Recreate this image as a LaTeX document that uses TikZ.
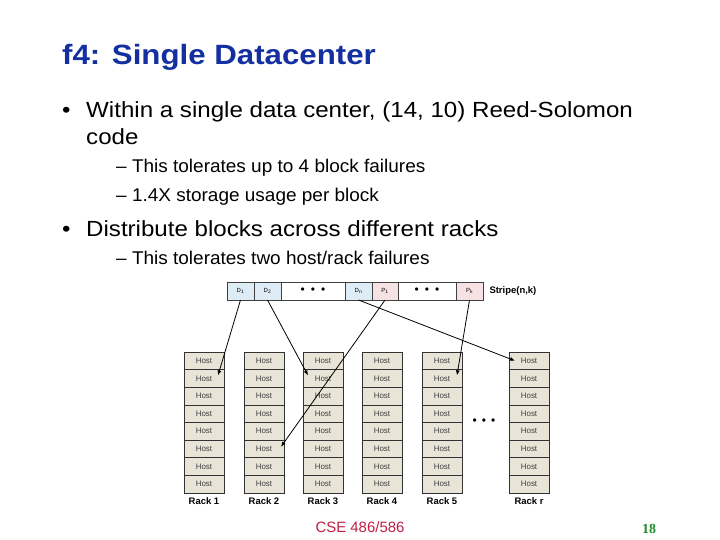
\documentclass[tikz,border=0pt]{standalone}
\usepackage{fontspec}
\setmainfont{Liberation Sans}
\newfontfamily\serifnum{Liberation Serif}
\newfontfamily\titlefont[FakeStretch=1.12]{Liberation Sans}
\newfontfamily\bodyfont[FakeStretch=1.1]{Liberation Sans}
\newfontfamily\subfont[FakeStretch=1.03]{Liberation Sans}
\usepackage{xcolor}
\usetikzlibrary{positioning,arrows.meta}
\definecolor{titleblue}{RGB}{20,48,160}
\definecolor{hostfill}{RGB}{232,229,216}
\definecolor{dblue}{RGB}{222,236,246}
\definecolor{ppink}{RGB}{246,226,228}
\definecolor{footred}{RGB}{190,30,70}
\definecolor{pagegreen}{RGB}{30,140,40}

\begin{document}
\begin{tikzpicture}[x=1bp, y=-1bp,
  ttl/.style={anchor=base west, inner sep=0pt, font=\titlefont\bfseries\fontsize{28}{32}\selectfont, text=titleblue},
  txt/.style={anchor=base west, inner sep=0pt, font=\bodyfont\fontsize{22}{26}\selectfont},
  subtxt/.style={anchor=base west, inner sep=0pt, font=\subfont\fontsize{18.5}{22}\selectfont},
  cell/.style={draw=black!75, minimum height=18bp, inner sep=0pt, outer sep=0pt,
               font=\fontsize{6}{7}\selectfont},
  dcell/.style={cell, fill=dblue},
  pcell/.style={cell, fill=ppink},
  gap/.style={cell, fill=white, font=\fontsize{12}{12}\selectfont},
  host/.style={draw=black!80, fill=hostfill, minimum width=40bp, minimum height=17.6bp,
               inner sep=0pt, outer sep=0pt, font=\fontsize{8}{8}\selectfont, text=black!75},
  rack/.style={font=\bfseries\fontsize{9.5}{10}\selectfont},
  arr/.style={-{Latex[length=5bp,width=4bp]}, line width=0.8bp}
]
\useasboundingbox[fill=white] (0,0) rectangle (720,540);

%% Title and bullet text
\node[ttl] (title) at (62,65) {f4: Single Datacenter};
\node[txt] (b1) at (62,118) {\makebox[24bp][l]{\textbullet}Within a single data center, (14, 10) Reed-Solomon};
\node[txt] (b1c) at (86,145) {code};
\node[subtxt] (s1) at (116,173) {\textendash{} This tolerates up to 4 block failures};
\node[subtxt] (s2) at (116,202) {\textendash{} 1.4X storage usage per block};
\node[txt] (b2) at (62,237) {\makebox[24bp][l]{\textbullet}Distribute blocks across different racks};
\node[subtxt] (s3) at (116,265) {\textendash{} This tolerates two host/rack failures};

%% Stripe of data and parity blocks
\node[dcell, minimum width=27bp] (d1) at (240.5,291) {D\textsubscript{1}};
\node[dcell, minimum width=27bp, right=0pt of d1] (d2) {D\textsubscript{2}};
\node[gap, minimum width=64bp, right=0pt of d2] (dgap) {\textbullet\hspace{6bp}\textbullet\hspace{6bp}\textbullet};
\node[dcell, minimum width=27bp, right=0pt of dgap] (dn) {D\textsubscript{n}};
\node[pcell, minimum width=26bp, right=0pt of dn] (p1) {P\textsubscript{1}};
\node[gap, minimum width=58bp, right=0pt of p1] (pgap) {\textbullet\hspace{6bp}\textbullet\hspace{6bp}\textbullet};
\node[pcell, minimum width=27bp, right=0pt of pgap] (pk) {P\textsubscript{k}};
\node[font=\bfseries\fontsize{9.5}{10}\selectfont, right=3bp of pk] (stripe) {Stripe(n,k)};

%% Racks of hosts
\foreach \r/\x in {1/204,2/264,3/323,4/382,5/442,r/529} {
  \node[host] (h\r-1) at (\x,360.8) {Host};
  \foreach \k [remember=\k as \j (initially 1)] in {2,...,8}
    \node[host, below=0pt of h\r-\j] (h\r-\k) {Host};
  \node[rack, below=1bp of h\r-8] (rack\r) {Rack \r};
}
\node[font=\fontsize{12}{12}\selectfont] (rdots) at (484,422) {\textbullet\hspace{5bp}\textbullet\hspace{5bp}\textbullet};

%% Block placement
\draw[arr] (d1.south) -- ([xshift=-6bp,yshift=3bp]h1-2.east);
\draw[arr] (d2.south) -- ([xshift=5bp,yshift=3bp]h3-2.west);
\draw[arr] (dn.south) -- ([xshift=6bp]hr-1.west);
\draw[arr] (p1.south) -- ([xshift=-3bp,yshift=2bp]h2-6.east);
\draw[arr] (pk.south) -- ([xshift=-5bp,yshift=3bp]h5-2.east);

%% Footer
\node[font=\fontsize{15}{18}\selectfont, text=footred] (course) at (360,527) {CSE 486/586};
\node[font=\serifnum\bfseries\fontsize{14}{16}\selectfont, text=pagegreen] (page) at (649,529) {18};
\end{tikzpicture}
\end{document}
